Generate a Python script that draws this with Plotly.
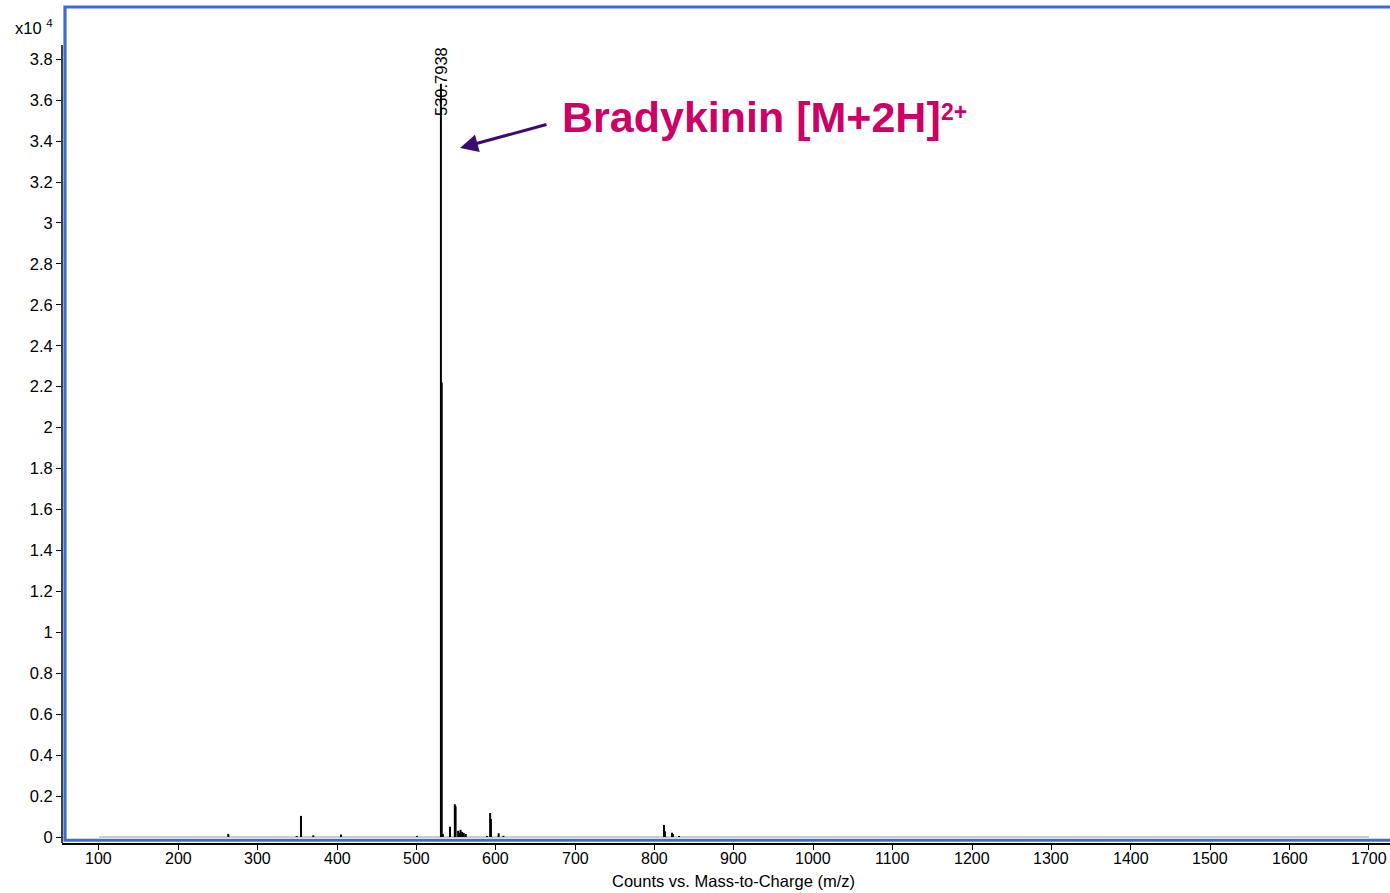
import plotly.graph_objects as go

# Peak list (m/z, counts)
peak_mz = [262.9, 349.0, 354.5, 370.0, 404.9, 500.6, 530.7938, 531.8, 533.2,
           542.2, 548.3, 549.3, 552.5, 554.0, 555.5, 557.5, 559.5, 562.0,
           588.8, 592.8, 593.8, 603.5, 609.5, 811.8, 813.0, 821.9, 823.0, 830.7]
peak_counts = [150, 50, 1030, 80, 120, 50, 36800, 22200, 150,
               500, 1600, 1500, 300, 200, 350, 250, 200, 150,
               50, 1170, 880, 180, 60, 590, 280, 210, 150, 50]
mz_start, mz_end = 100, 1700

x_ticks = list(range(100, 1800, 100))
y_ticks = [round(0.2 * i, 1) for i in range(20)]
y_tick_text = ["0", "0.2", "0.4", "0.6", "0.8", "1", "1.2", "1.4", "1.6", "1.8",
               "2", "2.2", "2.4", "2.6", "2.8", "3", "3.2", "3.4", "3.6", "3.8"]

x_title = "Counts vs. Mass-to-Charge (m/z)"
label_peak = "530.7938"
annotation_text = "Bradykinin [M+2H]"
annotation_sup = "2+"
scale = 1e4

# build stick spectrum
xs, ys = [], []
for mz, c in sorted(zip(peak_mz, peak_counts)):
    xs += [mz, mz, None]
    ys += [0, c / scale, None]

fig = go.Figure()
# baseline
fig.add_trace(go.Scatter(x=[mz_start, mz_end], y=[0, 0], mode="lines",
                         line=dict(color="#9a9a9a", width=1), hoverinfo="skip",
                         showlegend=False))
fig.add_trace(go.Scatter(x=xs, y=ys, mode="lines",
                         line=dict(color="black", width=2), hoverinfo="skip",
                         showlegend=False))

FAM = "Liberation Sans, Arial, sans-serif"
font = dict(family=FAM, size=16.5, color="black")
xfont = dict(family=FAM, size=16, color="black")

fig.update_layout(
    width=1390, height=893,
    margin=dict(l=62, r=0, t=6, b=50),
    paper_bgcolor="white", plot_bgcolor="white",
    font=font,
    showlegend=False,
    xaxis=dict(range=[53.4, 1726.5], tickvals=x_ticks, showticklabels=False,
               showline=True, linecolor="black", linewidth=1.5,
               ticks="outside", ticklen=5, tickcolor="black", tickwidth=1,
               showgrid=False, zeroline=False),
    yaxis=dict(range=[-0.0293, 4.060], tickvals=y_ticks, ticktext=y_tick_text,
               showline=False, ticks="outside", ticklen=5, tickcolor="black",
               tickwidth=1, showgrid=False, zeroline=False, tickfont=font),
)

# x tick labels
for v in x_ticks:
    fig.add_annotation(x=v, y=0, xref="x", yref="paper", text=str(v),
                       showarrow=False, xanchor="center", yanchor="top",
                       yshift=-5, font=xfont)
# x title
fig.add_annotation(x=0.506, y=0, xref="paper", yref="paper", text=x_title,
                   showarrow=False, xanchor="center", yanchor="top",
                   yshift=-27, font=font)

# y axis line (partial height)
fig.add_shape(type="line", xref="paper", yref="paper", x0=0, x1=0,
              y0=0, y1=0.9534, line=dict(color="black", width=1.5), layer="above")
# blue frame
fig.add_shape(type="rect", xref="paper", yref="paper", x0=0.00226, x1=1.003,
              y0=0.0033, y1=0.9988, line=dict(color="#3b6fcf", width=3.2),
              fillcolor="rgba(0,0,0,0)", layer="above")

# multiplier label
fig.add_annotation(xref="paper", yref="paper", x=-0.0369, y=0.975,
                   xanchor="left", yanchor="middle", showarrow=False,
                   text="x10 <sup>4</sup>", font=font)

# peak label
fig.add_annotation(x=530.7938, y=3.693, text=label_peak, textangle=-90,
                   showarrow=False, font=font, xanchor="center", yanchor="middle")

# arrow
fig.add_annotation(x=554.8, y=3.366, ax=88, ay=-24, text="", showarrow=True,
                   arrowhead=2, arrowsize=1.2, arrowwidth=3, arrowcolor="#3a0c6e")

# compound label
fig.add_annotation(x=680.8, y=3.52, text=annotation_text, showarrow=False,
                   xanchor="left", yanchor="middle",
                   font=dict(family=FAM, size=43, color="#cc0066", weight="bold"))
fig.add_annotation(x=1158.8, y=3.54, text=annotation_sup, showarrow=False,
                   xanchor="left", yanchor="middle",
                   font=dict(family=FAM, size=23, color="#cc0066", weight="bold"))

fig.write_html("out.html")
